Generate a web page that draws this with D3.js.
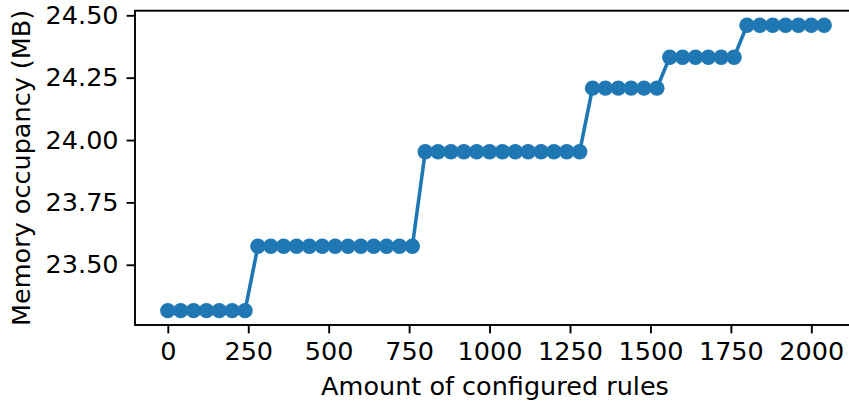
<!DOCTYPE html>
<meta charset="utf-8">
<head>
<style>
  body { margin: 0; background: #fff; }
  svg { display: block; font-family: "DejaVu Sans", sans-serif; }
</style>
</head>
<script src="https://d3js.org/d3.v7.min.js"></script>
<div id="my_dataviz"></div>
<script>

// data: rules configured vs memory (MB)
var rules = [0, 40, 80, 120, 160, 200, 240,
  280, 320, 360, 400, 440, 480, 520, 560, 600, 640, 680, 720, 760,
  800, 840, 880, 920, 960, 1000, 1040, 1080, 1120, 1160, 1200, 1240, 1280,
  1320, 1360, 1400, 1440, 1480, 1520,
  1560, 1600, 1640, 1680, 1720, 1760,
  1800, 1840, 1880, 1920, 1960, 2000, 2040];
var memory = [23.316, 23.316, 23.316, 23.316, 23.316, 23.316, 23.316,
  23.574, 23.574, 23.574, 23.574, 23.574, 23.574, 23.574, 23.574, 23.574, 23.574, 23.574, 23.574, 23.574,
  23.953, 23.953, 23.953, 23.953, 23.953, 23.953, 23.953, 23.953, 23.953, 23.953, 23.953, 23.953, 23.953,
  24.208, 24.208, 24.208, 24.208, 24.208, 24.208,
  24.332, 24.332, 24.332, 24.332, 24.332, 24.332,
  24.460, 24.460, 24.460, 24.460, 24.460, 24.460, 24.460];
var xTicks = [0, 250, 500, 750, 1000, 1250, 1500, 1750, 2000];
var yTicks = [23.50, 23.75, 24.00, 24.25, 24.50];

var data = rules.map(function(r, i) { return {x: r, y: memory[i]}; });

// figure size and axes box (right spine falls outside the window)
var W = 849, H = 405;
var plotL = 135, plotT = 10.7, plotB = 325, plotR = 857;
var fs = "25.5px";

var svg = d3.select("#my_dataviz")
  .append("svg")
    .attr("width", W)
    .attr("height", H);

var x = d3.scaleLinear().domain([-102, 2142]).range([plotL, plotR]);
var y = d3.scaleLinear().domain([23.2585, 24.5185]).range([plotB, plotT]);

// X axis
var xAxis = svg.append("g")
  .attr("transform", "translate(0," + plotB + ")")
  .call(d3.axisBottom(x).tickValues(xTicks).tickSize(8.4).tickPadding(8).tickFormat(d3.format("d")));

// Y axis
var yAxis = svg.append("g")
  .attr("transform", "translate(" + plotL + ",0)")
  .call(d3.axisLeft(y).tickValues(yTicks).tickSize(8.4).tickPadding(8).tickFormat(d3.format(".2f")));

[xAxis, yAxis].forEach(function(a) {
  a.select(".domain").remove();
  a.selectAll("line").attr("stroke", "#000").attr("stroke-width", 1.9);
  a.selectAll("text").attr("fill", "#000").style("font-size", fs).style("font-family", "DejaVu Sans");
});

// spines
svg.append("rect")
  .attr("x", plotL).attr("y", plotT)
  .attr("width", plotR - plotL).attr("height", plotB - plotT)
  .attr("fill", "none").attr("stroke", "#000").attr("stroke-width", 1.9);

// line + markers
svg.append("path")
  .datum(data)
  .attr("fill", "none")
  .attr("stroke", "#1f77b4")
  .attr("stroke-width", 3.6)
  .attr("d", d3.line().x(function(d) { return x(d.x); }).y(function(d) { return y(d.y); }));

svg.selectAll("circle")
  .data(data)
  .enter()
  .append("circle")
    .attr("cx", function(d) { return x(d.x); })
    .attr("cy", function(d) { return y(d.y); })
    .attr("r", 7.7)
    .attr("fill", "#1f77b4");

// axis labels
svg.append("text")
  .attr("x", 495)
  .attr("y", 395)
  .attr("text-anchor", "middle")
  .style("font-size", fs)
  .text("Amount of configured rules");

svg.append("text")
  .attr("transform", "translate(30," + ((plotT + plotB) / 2) + ") rotate(-90)")
  .attr("text-anchor", "middle")
  .style("font-size", fs)
  .text("Memory occupancy (MB)");

</script>
